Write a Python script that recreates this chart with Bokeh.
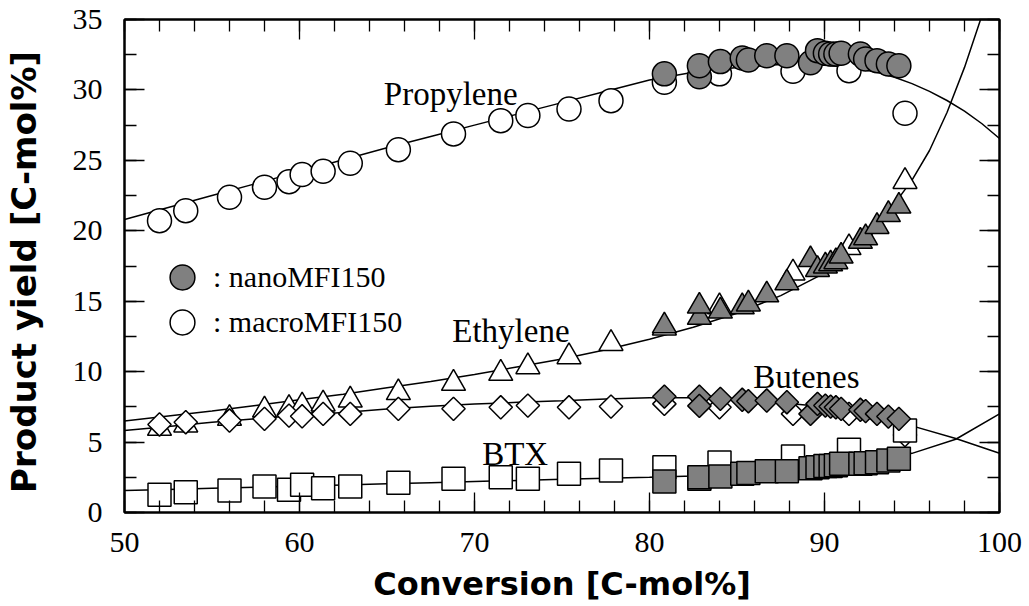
import numpy as np
from bokeh.plotting import figure
from bokeh.models import Range1d, LinearAxis, SingleIntervalTicker, Label, Legend, LegendItem
from bokeh.embed import file_html
from bokeh.resources import INLINE

# ---------------- data ----------------
macro_conv = [52.0, 53.5, 56.0, 58.0, 59.4, 60.15, 61.35, 62.9, 65.65, 68.8,
              71.5, 73.05, 75.4, 77.8, 80.85, 84.0, 88.2, 91.4, 94.6]
macro_propylene = [20.72, 21.43, 22.38, 23.09, 23.49, 23.99, 24.22, 24.79, 25.76, 26.88,
                   27.82, 28.18, 28.65, 29.24, 30.54, 31.14, 31.32, 31.37, 28.34]
macro_ethylene = [5.97, 6.21, 6.68, 7.27, 7.39, 7.56, 7.7, 7.98, 8.51, 9.17,
                  9.88, 10.35, 11.06, 12.0, 13.1, 14.6, 17.0, 18.8, 23.5]
macro_butenes = [6.25, 6.41, 6.53, 6.65, 6.88, 6.83, 7.0, 7.0, 7.36, 7.36,
                 7.47, 7.59, 7.47, 7.52, 7.71, 7.47, 7.0, 7.0, 5.5]
macro_btx = [1.26, 1.44, 1.56, 1.85, 1.61, 1.97, 1.72, 1.85, 2.11, 2.39,
             2.51, 2.39, 2.75, 2.98, 3.22, 3.55, 3.98, 4.45, 5.82]

nano_conv = [80.85, 82.85, 82.85, 84.05, 85.3, 85.65, 86.7, 87.85, 89.2, 89.6,
             90.05, 90.35, 90.65, 90.95, 92.05, 92.35, 93.0, 93.65, 94.25]
nano_propylene = [31.14, 30.94, 31.72, 32.01, 32.27, 32.13, 32.43, 32.43, 31.93, 32.79,
                  32.6, 32.55, 32.55, 32.6, 32.55, 32.2, 32.08, 31.84, 31.72]
nano_ethylene = [13.25, 13.85, 14.65, 14.3, 14.6, 14.8, 15.45, 16.3, 17.95, 17.25,
                 17.5, 17.65, 17.8, 18.2, 19.25, 19.5, 20.3, 21.15, 21.75]
nano_butenes = [8.23, 8.23, 7.57, 8.07, 8.0, 7.9, 7.95, 7.83, 7.0, 7.71,
                7.59, 7.52, 7.47, 7.36, 7.29, 7.2, 7.0, 6.81, 6.65]
nano_btx = [2.2, 2.39, 2.5, 2.56, 2.75, 2.8, 2.93, 2.93, 3.15, 3.22,
            3.3, 3.3, 3.35, 3.46, 3.46, 3.5, 3.57, 3.69, 3.81]

# fitted trend curves
propylene_curve_x = [50, 52.5, 55, 57.5, 60, 62.5, 65, 67.5, 70, 72.5, 75, 77.5, 80, 82.5,
                     85, 87.5, 90, 91, 92, 93, 94, 95, 96, 97, 98, 99, 100]
curve_propylene = [20.8, 21.65, 22.5, 23.35, 24.2, 25.05, 25.9, 26.7, 27.5, 28.3, 29.1, 29.9,
                   30.7, 31.25, 31.6, 31.8, 31.75, 31.65, 31.5, 31.25, 30.9, 30.45, 29.9,
                   29.25, 28.5, 27.6, 26.55]
curve_x = [50, 52.5, 55, 57.5, 60, 62.5, 65, 67.5, 70, 72.5, 75, 77.5,
           80, 82.5, 85, 87.5, 90, 92.5, 95, 97.5, 100]
curve_butenes = [5.82, 6.1, 6.4, 6.65, 6.9, 7.1, 7.35, 7.55, 7.7, 7.82, 7.93, 8.05,
                 8.15, 8.15, 8.05, 7.8, 7.5, 7.0, 6.15, 5.25, 4.21]
curve_btx = [1.56, 1.64, 1.72, 1.8, 1.88, 1.96, 2.04, 2.12, 2.2, 2.28, 2.36, 2.43,
             2.5, 2.6, 2.75, 2.95, 3.2, 3.6, 4.2, 5.2, 7.0]
ethylene_curve_x = [50, 52.5, 55, 57.5, 60, 62.5, 65, 67.5, 70, 72.5, 75, 77.5,
                    80, 82.5, 85, 87.5, 90, 92.5, 95, 96, 97, 98, 99]
curve_ethylene = [6.5, 6.85, 7.2, 7.6, 8.0, 8.4, 8.85, 9.3, 9.8, 10.35, 10.9, 11.55,
                  12.3, 13.15, 14.15, 15.4, 17.0, 19.4, 23.6, 25.7, 28.4, 31.6, 35.3]

x_ticks_interval = 10
y_ticks_interval = 5

SERIF = "Liberation Serif"
GRAY = "#808080"

p = figure(width=1029, height=606, output_backend="svg", toolbar_location=None,
           x_range=Range1d(50, 100), y_range=Range1d(0, 35),
           min_border_left=124, min_border_right=30, min_border_top=19, min_border_bottom=94,
           x_axis_label="Conversion [C-mol%]", y_axis_label="Product  yield [C-mol%]")
p.grid.visible = False
p.outline_line_color = "black"
p.outline_line_width = 2
p.background_fill_color = "white"
p.border_fill_color = "white"


def style_axis(ax, interval, nminor):
    ax.ticker = SingleIntervalTicker(interval=interval, num_minor_ticks=nminor)
    ax.axis_line_color = "black"
    ax.axis_line_width = 2
    ax.major_tick_in = 20
    ax.major_tick_out = 0
    ax.minor_tick_in = 12
    ax.minor_tick_out = 0
    ax.major_tick_line_color = "black"
    ax.minor_tick_line_color = "black"
    ax.major_tick_line_width = 1.3
    ax.minor_tick_line_width = 1.3
    ax.major_label_text_font = SERIF
    ax.major_label_text_font_size = "30px"
    ax.major_label_text_color = "black"
    ax.axis_label_text_font = "DejaVu Sans"
    ax.axis_label_text_font_style = "bold"
    ax.axis_label_text_font_size = "32px"
    ax.axis_label_text_color = "black"


style_axis(p.xaxis[0], x_ticks_interval, 5)
style_axis(p.yaxis[0], y_ticks_interval, 2)
p.xaxis[0].major_label_standoff = 20
p.xaxis[0].axis_label_standoff = 10
p.yaxis[0].major_label_standoff = 22
p.yaxis[0].axis_label_standoff = 26
p.yaxis[0].axis_label_text_font_size = "34px"

# frame ticks on the top and right sides, without labels
top = LinearAxis()
style_axis(top, x_ticks_interval, 5)
top.major_label_text_color = None
top.major_label_text_font_size = "1px"
top.major_label_standoff = 0
p.add_layout(top, "above")

right = LinearAxis()
style_axis(right, y_ticks_interval, 2)
right.major_label_text_color = None
right.major_label_text_font_size = "1px"
right.major_label_standoff = 0
p.add_layout(right, "right")

# trend curves
for cx, cy in [(propylene_curve_x, curve_propylene), (ethylene_curve_x, curve_ethylene),
               (curve_x, curve_butenes), (curve_x, curve_btx)]:
    p.line(cx, cy, line_color="black", line_width=1.5)

# macro (open) markers
open_kw = dict(fill_color="white", line_color="black", line_width=1.5)
macro_circ = p.scatter(macro_conv, macro_propylene, marker="circle", size=24, **open_kw)
p.scatter(macro_conv, macro_ethylene, marker="triangle", size=24, **open_kw)
p.scatter(macro_conv, macro_butenes, marker="square", angle=np.pi / 4, size=16.5, **open_kw)
p.scatter(macro_conv, macro_btx, marker="square", size=23, **open_kw)

# nano (gray) markers
nano_kw = dict(fill_color=GRAY, line_color="black", line_width=1.5)
nano_circ = p.scatter(nano_conv, nano_propylene, marker="circle", size=24, **nano_kw)
p.scatter(nano_conv, nano_ethylene, marker="triangle", size=24, **nano_kw)
p.scatter(nano_conv, nano_butenes, marker="square", angle=np.pi / 4, size=16.5, **nano_kw)
p.scatter(nano_conv, nano_btx, marker="square", size=23, **nano_kw)

# curve labels
for txt, lx, ly in [("Propylene", 64.82, 29.72), ("Ethylene", 68.73, 12.85),
                    ("Butenes", 85.93, 9.65), ("BTX", 70.44, 4.17)]:
    p.add_layout(Label(x=lx, y=ly, text=txt, text_font=SERIF, text_font_size="33px",
                       text_baseline="alphabetic", text_align="left", text_color="black"))

legend_kw = dict(glyph_width=62, glyph_height=62, padding=0, margin=0, label_standoff=0,
                 border_line_color=None, background_fill_alpha=0,
                 label_text_font=SERIF, label_text_font_size="30px", label_text_color="black")
p.add_layout(Legend(items=[LegendItem(label=": nanoMFI150", renderers=[nano_circ])],
                    location=(27, 204), **legend_kw))
p.add_layout(Legend(items=[LegendItem(label=": macroMFI150", renderers=[macro_circ])],
                    location=(27, 159), **legend_kw))

open("out.html", "w").write(file_html(p, INLINE))
